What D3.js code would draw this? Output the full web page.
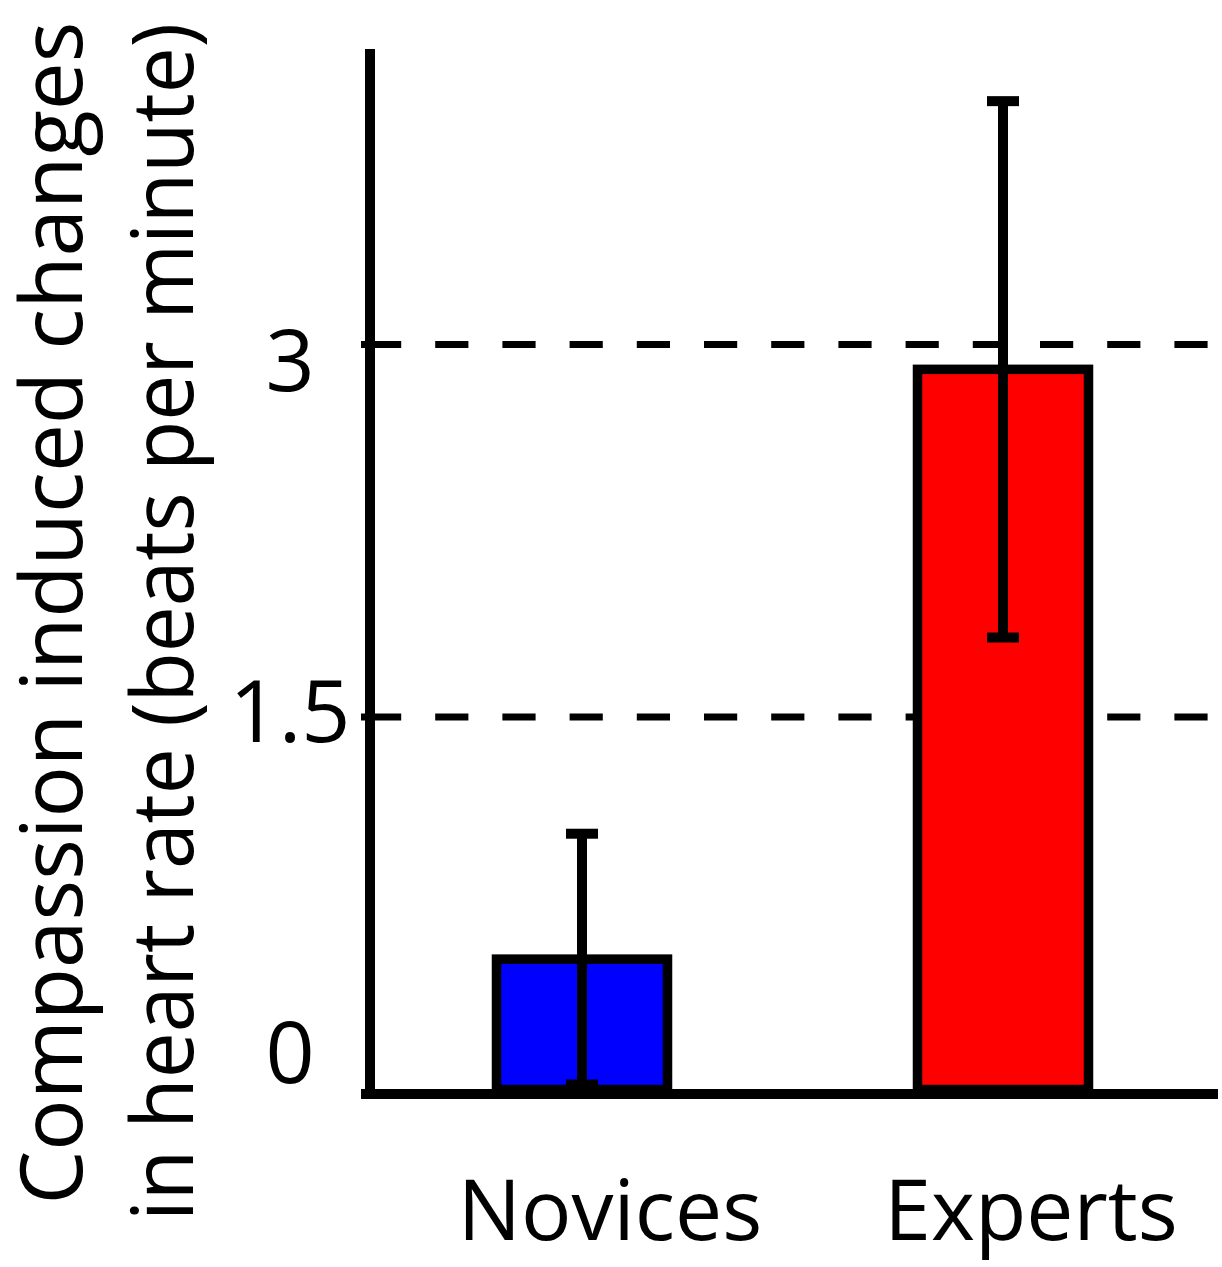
<!DOCTYPE html>
<html>
<head>
<meta charset="utf-8">
<script src="https://cdn.jsdelivr.net/npm/d3@7"></script>
<style>
  html, body { margin: 0; padding: 0; background: #fff; }
  svg { display: block; }
  text { font-family: "Open Sans", sans-serif; fill: #000; }
</style>
</head>
<body>
<svg id="chart" width="1222" height="1267"></svg>
<script>
// ---- data ----
const categories = ["Novices", "Experts"];
const means = [0.525, 2.9];
const errors = [0.505, 1.08];
const barColors = ["#0000ff", "#ff0000"];
const tickValues = [0, 1.5, 3];
const tickLabels = ["0", "1.5", "3"];
const gridValues = [1.5, 3];
const titleLines = ["Compassion induced changes", "in heart rate (beats per minute)"];

// ---- layout ----
const W = 1222, H = 1267;
const y0px = 1089.5, pxPerUnit = 248.33;
const yTop = 4.19;
const tickLabelDy = [-7, 25, 46]; // manual nudges of the original labels
const titleLayout = [{x: 82, cy: 613, len: 1183}, {x: 193, cy: 622, len: 1198}];
const svg = d3.select("#chart");

const y = d3.scaleLinear().domain([0, yTop]).range([y0px, y0px - yTop * pxPerUnit]);
const x = d3.scalePoint().domain(categories).range([582, 1003]);
const barW = 171;
const axisX = 370;

// dashed gridlines
svg.append("g").selectAll("line").data(gridValues).join("line")
  .attr("x1", 368).attr("x2", 1218)
  .attr("y1", d => y(d)).attr("y2", d => y(d))
  .attr("stroke", "#000").attr("stroke-width", 7)
  .attr("stroke-dasharray", "33.2,34");
// small ticks left of axis
svg.append("g").selectAll("line").data(gridValues).join("line")
  .attr("x1", 361).attr("x2", 372)
  .attr("y1", d => y(d)).attr("y2", d => y(d))
  .attr("stroke", "#000").attr("stroke-width", 7);

// bars
const data = categories.map((c, i) => ({c, m: means[i], e: errors[i], col: barColors[i]}));
svg.append("g").selectAll("rect").data(data).join("rect")
  .attr("x", d => x(d.c) - barW / 2)
  .attr("width", barW)
  .attr("y", d => y(d.m))
  .attr("height", d => y(0) - y(d.m))
  .attr("fill", d => d.col)
  .attr("stroke", "#000").attr("stroke-width", 9.5);

// error bars
const eb = svg.append("g");
eb.selectAll("line.v").data(data).join("line").attr("class", "v")
  .attr("x1", d => x(d.c)).attr("x2", d => x(d.c))
  .attr("y1", d => y(d.m + d.e)).attr("y2", d => y(d.m - d.e))
  .attr("stroke", "#000").attr("stroke-width", 10);
eb.selectAll("line.t").data(data).join("line").attr("class", "t")
  .attr("x1", d => x(d.c) - 16).attr("x2", d => x(d.c) + 16)
  .attr("y1", d => y(d.m + d.e)).attr("y2", d => y(d.m + d.e))
  .attr("stroke", "#000").attr("stroke-width", 10);
eb.selectAll("line.b").data(data).join("line").attr("class", "b")
  .attr("x1", d => x(d.c) - 16).attr("x2", d => x(d.c) + 16)
  .attr("y1", d => y(d.m - d.e)).attr("y2", d => y(d.m - d.e))
  .attr("stroke", "#000").attr("stroke-width", 10);

// axes lines
svg.append("line")
  .attr("x1", axisX).attr("x2", axisX)
  .attr("y1", y(yTop)).attr("y2", y(0) + 9.5)
  .attr("stroke", "#000").attr("stroke-width", 10);
svg.append("line")
  .attr("x1", 361).attr("x2", 1218)
  .attr("y1", y(0) + 4.5).attr("y2", y(0) + 4.5)
  .attr("stroke", "#000").attr("stroke-width", 10);

// tick labels
svg.append("g").selectAll("text").data(tickValues).join("text")
  .attr("x", 290)
  .attr("y", (d, i) => y(d) + tickLabelDy[i])
  .attr("text-anchor", "middle")
  .attr("font-size", 86)
  .text((d, i) => tickLabels[i]);

// category labels
svg.append("g").selectAll("text").data(categories).join("text")
  .attr("x", d => x(d) + 28)
  .attr("y", 1240)
  .attr("text-anchor", "middle")
  .attr("font-size", 84)
  .text(d => d);

// y title
svg.append("g").selectAll("text").data(titleLines).join("text")
  .attr("transform", (d, i) => `translate(${titleLayout[i].x},${titleLayout[i].cy}) rotate(-90)`)
  .attr("text-anchor", "middle")
  .attr("font-size", 86)
  .attr("textLength", (d, i) => titleLayout[i].len)
  .attr("lengthAdjust", "spacingAndGlyphs")
  .text(d => d);
</script>
</body>
</html>
